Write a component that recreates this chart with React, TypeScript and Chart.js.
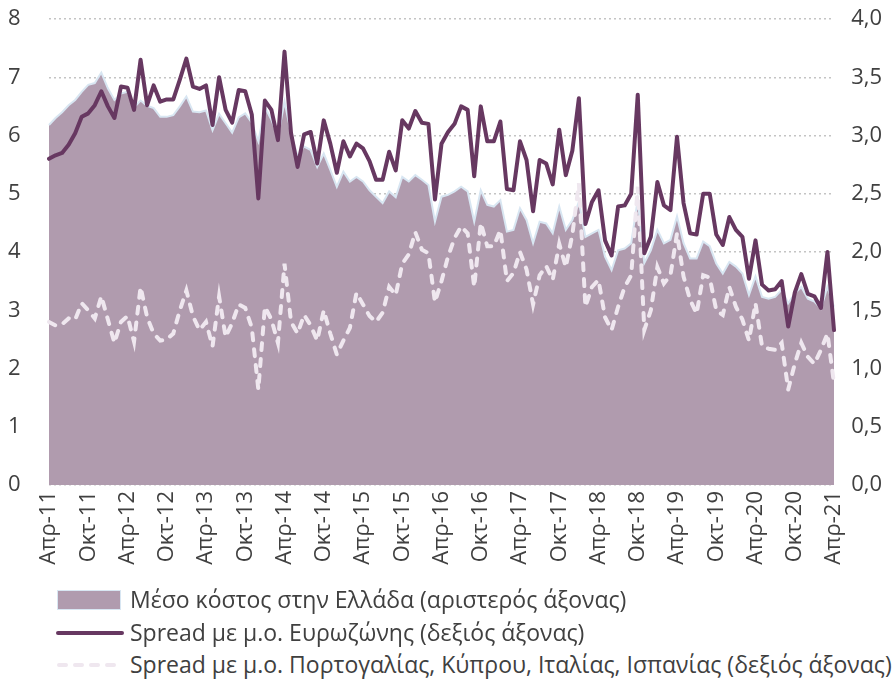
import React, { useEffect, useRef } from 'react';
import { Chart, registerables } from 'chart.js';
Chart.register(...registerables);

const MONTHS = ['Ιαν', 'Φεβ', 'Μαρ', 'Απρ', 'Μαϊ', 'Ιουν', 'Ιουλ', 'Αυγ', 'Σεπ', 'Οκτ', 'Νοε', 'Δεκ'];
const START_YEAR = 2011;
const START_MONTH = 3; // April
const N_MONTHS = 121;
const categories: string[] = Array.from({ length: N_MONTHS }, (_, i) => {
  const k = START_MONTH + i;
  const y = START_YEAR + Math.floor(k / 12);
  return `${MONTHS[k % 12]}-${String(y % 100).padStart(2, '0')}`;
});

const LEFT_TICKS = [0, 1, 2, 3, 4, 5, 6, 7, 8];
const RIGHT_TICKS = ['0,0', '0,5', '1,0', '1,5', '2,0', '2,5', '3,0', '3,5', '4,0'];

const SERIES_NAMES = [
  'Μέσο κόστος στην Ελλάδα (αριστερός άξονας)',
  'Spread με μ.ο. Ευρωζώνης (δεξιός άξονας)',
  'Spread με μ.ο. Πορτογαλίας, Κύπρου, Ιταλίας, Ισπανίας (δεξιός άξονας)',
];

// Average cost in Greece (left axis)
const avgCostGreece = [
  6.18, 6.30, 6.40, 6.52, 6.61, 6.75, 6.87, 6.90, 7.08, 6.81,
  6.61, 6.72, 6.75, 6.48, 6.60, 6.51, 6.47, 6.32, 6.32, 6.35,
  6.50, 6.67, 6.41, 6.40, 6.43, 6.09, 6.37, 6.21, 6.05, 6.31,
  6.38, 6.22, 5.90, 6.49, 6.27, 5.98, 6.58, 6.04, 5.64, 5.81,
  5.75, 5.46, 5.69, 5.41, 5.12, 5.38, 5.21, 5.29, 5.21, 5.06,
  4.95, 4.84, 5.04, 4.94, 5.29, 5.21, 5.32, 5.24, 5.15, 4.52,
  4.95, 4.98, 5.04, 5.12, 5.04, 4.52, 5.06, 4.81, 4.78, 4.89,
  4.35, 4.38, 4.75, 4.55, 4.15, 4.52, 4.49, 4.32, 4.78, 4.38,
  4.55, 4.86, 4.26, 4.32, 4.38, 3.92, 3.69, 4.03, 4.06, 4.15,
  4.90, 3.81, 4.03, 4.38, 4.15, 4.21, 4.61, 4.15, 3.89, 3.89,
  4.18, 4.10, 3.80, 3.63, 3.83, 3.75, 3.63, 3.26, 3.58, 3.23,
  3.20, 3.23, 3.35, 3.12, 3.29, 3.40, 3.20, 3.15, 3.03, 3.40, 3.06,
];

// Spread vs euro area average (right axis)
const spreadEuroArea = [
  2.80, 2.83, 2.85, 2.92, 3.02, 3.16, 3.19, 3.26, 3.38, 3.25,
  3.15, 3.42, 3.41, 3.22, 3.65, 3.26, 3.43, 3.29, 3.31, 3.31,
  3.48, 3.66, 3.42, 3.40, 3.43, 3.09, 3.50, 3.22, 3.11, 3.39,
  3.38, 3.18, 2.46, 3.30, 3.22, 2.96, 3.72, 3.02, 2.73, 3.01,
  3.03, 2.76, 3.13, 2.93, 2.68, 2.95, 2.82, 2.93, 2.89, 2.78,
  2.62, 2.62, 2.86, 2.70, 3.13, 3.06, 3.21, 3.11, 3.10, 2.45,
  2.93, 3.03, 3.10, 3.25, 3.22, 2.65, 3.25, 2.95, 2.95, 3.12,
  2.54, 2.53, 2.95, 2.79, 2.35, 2.79, 2.76, 2.58, 3.05, 2.66,
  2.87, 3.32, 2.24, 2.43, 2.53, 2.10, 1.97, 2.39, 2.40, 2.50,
  3.35, 1.99, 2.13, 2.60, 2.40, 2.36, 2.99, 2.42, 2.16, 2.15,
  2.50, 2.50, 2.15, 2.06, 2.30, 2.19, 2.13, 1.77, 2.10, 1.72,
  1.67, 1.68, 1.75, 1.36, 1.65, 1.81, 1.64, 1.62, 1.52, 2.00, 1.33,
];

// Spread vs PT/CY/IT/ES average (right axis)
const spreadPeriphery = [
  1.40, 1.37, 1.38, 1.43, 1.42, 1.56, 1.50, 1.43, 1.62, 1.42,
  1.22, 1.40, 1.45, 1.23, 1.70, 1.44, 1.30, 1.24, 1.25, 1.30,
  1.50, 1.67, 1.45, 1.33, 1.40, 1.19, 1.62, 1.27, 1.39, 1.55,
  1.52, 1.35, 0.82, 1.53, 1.42, 1.22, 1.90, 1.40, 1.30, 1.46,
  1.37, 1.24, 1.50, 1.30, 1.12, 1.24, 1.35, 1.65, 1.55, 1.45,
  1.40, 1.48, 1.70, 1.63, 1.90, 1.98, 2.17, 2.02, 1.99, 1.57,
  1.75, 1.96, 2.12, 2.22, 2.16, 1.70, 2.25, 2.05, 2.05, 2.19,
  1.75, 1.82, 2.00, 1.85, 1.55, 1.80, 1.88, 1.76, 2.07, 1.87,
  2.15, 2.59, 1.53, 1.70, 1.76, 1.44, 1.33, 1.53, 1.70, 1.80,
  2.56, 1.33, 1.50, 1.87, 1.73, 1.80, 2.16, 1.79, 1.59, 1.47,
  1.80, 1.78, 1.50, 1.46, 1.70, 1.53, 1.42, 1.24, 1.56, 1.19,
  1.17, 1.16, 1.22, 0.82, 1.04, 1.22, 1.10, 1.04, 1.16, 1.30, 0.87,
];

const AREA_COLOR = '#b09bae';
const AREA_BORDER = '#d8e6f2';
const DARK_COLOR = '#673861';
const LIGHT_COLOR = '#efe7ef';
const TEXT_COLOR = '#404040';
const FONT = "'Open Sans', 'DejaVu Sans', sans-serif";

const CANVAS_H = 588;

export default function App() {
  const canvasRef = useRef<HTMLCanvasElement | null>(null);

  useEffect(() => {
    document.body.style.margin = '0';
    const canvas = canvasRef.current;
    if (!canvas) return;
    const chart = new Chart(canvas, {
      type: 'line',
      data: {
        labels: categories,
        datasets: [
          {
            label: SERIES_NAMES[1],
            data: spreadEuroArea,
            yAxisID: 'y1',
            borderColor: DARK_COLOR,
            backgroundColor: DARK_COLOR,
            borderWidth: 4,
            pointRadius: 0,
            tension: 0,
            fill: false,
            borderJoinStyle: 'round',
            borderCapStyle: 'round',
          },
          {
            label: SERIES_NAMES[2],
            data: spreadPeriphery,
            yAxisID: 'y1',
            borderColor: LIGHT_COLOR,
            backgroundColor: LIGHT_COLOR,
            borderWidth: 4,
            borderDash: [7, 9],
            borderCapStyle: 'round',
            pointRadius: 0,
            tension: 0,
            fill: false,
          },
          {
            label: SERIES_NAMES[0],
            data: avgCostGreece,
            yAxisID: 'y',
            borderColor: AREA_BORDER,
            backgroundColor: AREA_COLOR,
            borderWidth: 2,
            pointRadius: 0,
            tension: 0,
            fill: 'origin',
          },
        ],
      },
      options: {
        animation: false,
        responsive: false,
        maintainAspectRatio: false,
        layout: { padding: { top: 19, left: 8, right: 14, bottom: 0 } },
        plugins: {
          legend: { display: false },
          tooltip: { enabled: false },
        },
        scales: {
          x: {
            type: 'category',
            offset: false,
            grid: { display: false, drawTicks: false },
            border: { display: false },
            ticks: {
              autoSkip: false,
              maxRotation: 90,
              minRotation: 90,
              padding: 6,
              color: TEXT_COLOR,
              font: { family: FONT, size: 22 },
              callback: (_v: any, i: number) => (i % 6 === 0 ? categories[i] : null),
            },
            afterFit: (s: any) => { s.height = CANVAS_H - 485; },
          },
          y: {
            position: 'left',
            min: 0,
            max: 8,
            ticks: {
              stepSize: 1,
              padding: 0,
              crossAlign: 'far',
              color: TEXT_COLOR,
              font: { family: FONT, size: 22 },
              callback: (v: any) => String(LEFT_TICKS[Math.round(Number(v))] ?? v),
            },
            grid: { color: '#c4c4c4', lineWidth: 1.5, drawTicks: false },
            border: { display: false, dash: [2, 3] },
            afterFit: (s: any) => { s.width = 41; },
          },
          y1: {
            position: 'right',
            min: 0,
            max: 4,
            ticks: {
              stepSize: 0.5,
              padding: 0,
              crossAlign: 'far',
              color: TEXT_COLOR,
              font: { family: FONT, size: 22 },
              callback: (v: any) => RIGHT_TICKS[Math.round(Number(v) * 2)] ?? String(v),
            },
            grid: { display: false, drawTicks: false },
            border: { display: false },
            afterFit: (s: any) => { s.width = 48; },
          },
        },
      },
    });
    return () => chart.destroy();
  }, []);

  const textStyle: React.CSSProperties = {
    position: 'absolute',
    left: 130,
    fontFamily: FONT,
    fontSize: 23,
    color: TEXT_COLOR,
    lineHeight: '26px',
    whiteSpace: 'nowrap',
  };

  return (
    <div style={{ position: 'relative', width: 896, height: 683, overflow: 'hidden', background: '#fff' }}>
      <canvas ref={canvasRef} width={896} height={CANVAS_H} style={{ position: 'absolute', left: 0, top: 0, width: 896, height: CANVAS_H }} />
      <div style={{ position: 'absolute', left: 57, top: 590, width: 62, height: 18, background: AREA_COLOR, border: `1.5px solid ${AREA_BORDER}` }} />
      <div style={{ ...textStyle, top: 586 }}>{SERIES_NAMES[0]}</div>
      <svg style={{ position: 'absolute', left: 55, top: 626 }} width={70} height={14}>
        <line x1={3} y1={7} x2={67} y2={7} stroke={DARK_COLOR} strokeWidth={4} strokeLinecap="round" />
      </svg>
      <div style={{ ...textStyle, top: 619 }}>{SERIES_NAMES[1]}</div>
      <svg style={{ position: 'absolute', left: 55, top: 658 }} width={70} height={14}>
        <line x1={4} y1={7} x2={67} y2={7} stroke={LIGHT_COLOR} strokeWidth={4} strokeLinecap="round" strokeDasharray="7 9" />
      </svg>
      <div style={{ ...textStyle, top: 651 }}>{SERIES_NAMES[2]}</div>
    </div>
  );
}
